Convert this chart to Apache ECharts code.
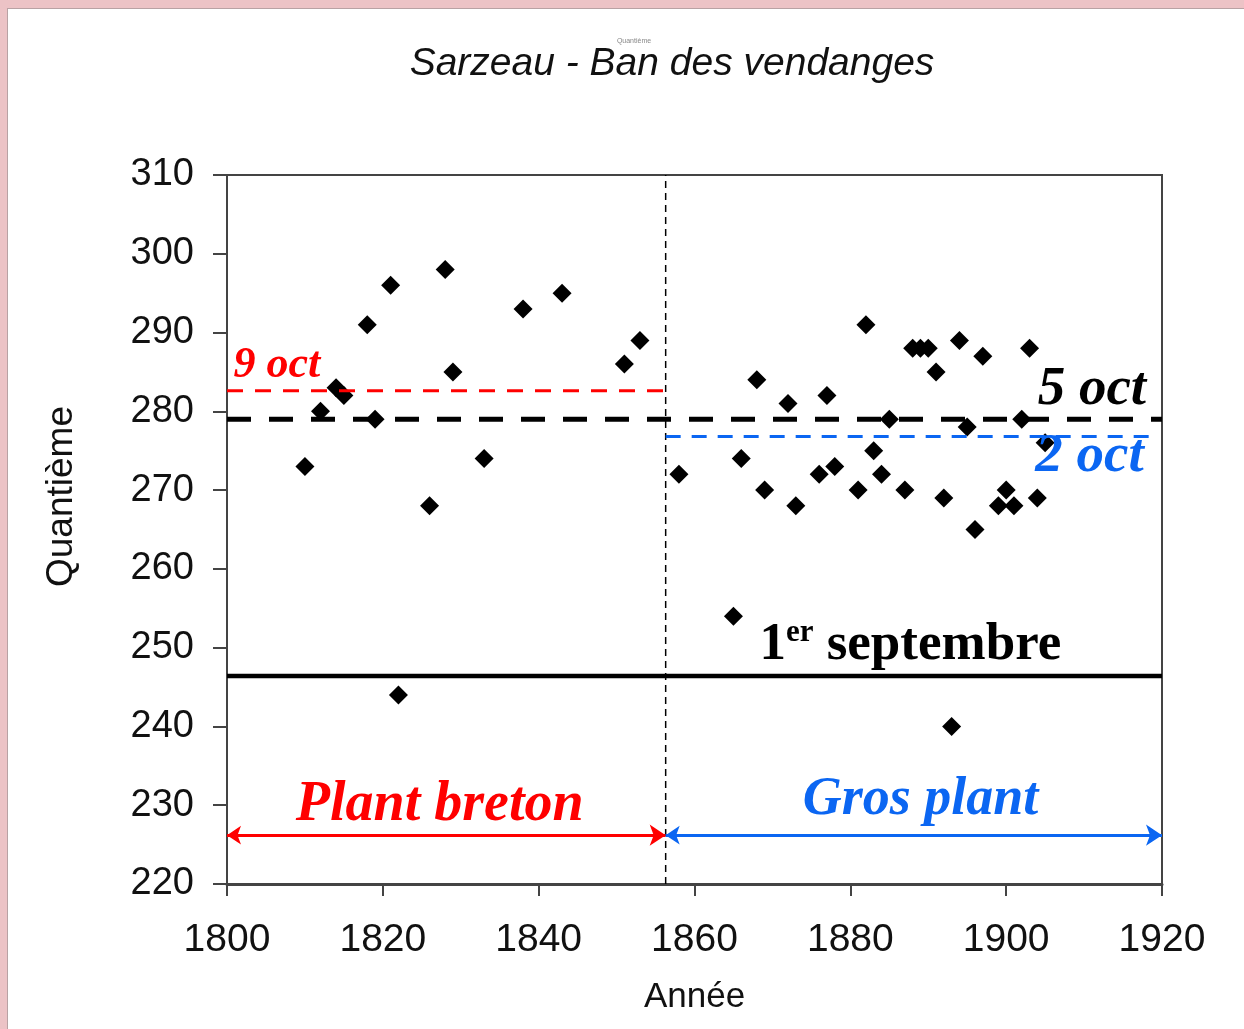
<!DOCTYPE html>
<html><head><meta charset="utf-8">
<script src="https://cdn.jsdelivr.net/npm/echarts@6/dist/echarts.min.js"></script>
<style>html,body{margin:0;padding:0;background:#fff}#c{width:1244px;height:1029px}</style>
</head><body><div id="c"></div>
<script>
// ---- data ----
const bretonYears = [1810,1812,1814,1815,1818,1819,1821,1822,1826,1828,1829,1833,1838,1843,1851,1853];
const bretonDays  = [273,280,283,282,291,279,296,244,268,298,285,274,293,295,286,289];
const grosYears = [1858,1865,1866,1868,1869,1872,1873,1876,1877,1878,1881,1882,1883,1884,1885,1887,1888,1889,1890,1891,1892,1893,1894,1895,1896,1897,1899,1900,1901,1902,1903,1904,1905];
const grosDays  = [272,254,274,284,270,281,268,272,282,273,270,291,275,272,279,270,288,288,288,285,269,240,289,278,265,287,268,270,268,279,288,269,276];
const xTickLabels = [1800,1820,1840,1860,1880,1900,1920];
const yTickLabels = [220,230,240,250,260,270,280,290,300,310];
const meanAll = 279;      // 5 oct
const meanBreton = 282.6; // 9 oct
const meanGros = 276.8;   // 2 oct
const septFirst = 246.4;  // 1er septembre
const changeYear = 1856.3;
const periodArrowDay = 226.2;
const grosLineEnd = 1918.9;

const xMin = xTickLabels[0], xMax = xTickLabels[xTickLabels.length-1];
const yMin = yTickLabels[0], yMax = yTickLabels[yTickLabels.length-1];
const points = bretonYears.map((y,i)=>[y,bretonDays[i]]).concat(grosYears.map((y,i)=>[y,grosDays[i]]));

const RED = '#ff0000', BLUE = '#0b66f2';
const chart = echarts.init(document.getElementById('c'), null, {renderer:'canvas'});
const axisFont = '"Liberation Sans", Arial, sans-serif';

const option = {
  animation: false,
  backgroundColor: '#fff',
  title: {
    text: 'Sarzeau - Ban des vendanges',
    left: 667, top: 40, textAlign: 'center',
    textStyle: {fontFamily: axisFont, fontStyle: 'italic', fontWeight: 'normal', fontSize: 39, color: '#111'}
  },
  grid: {left: 227, right: 82, top: 175, bottom: 145, show: true, borderColor: '#444', borderWidth: 2, backgroundColor: 'transparent'},
  xAxis: {
    type: 'value', min: xMin, max: xMax, interval: 20,
    name: 'Année', nameLocation: 'middle', nameGap: 96,
    nameTextStyle: {fontFamily: axisFont, fontSize: 35, color: '#111'},
    axisLine: {lineStyle: {color: '#444', width: 3}},
    axisTick: {inside: false, length: 12, lineStyle: {color: '#444', width: 2}},
    axisLabel: {margin: 37, fontFamily: axisFont, fontSize: 39, color: '#111', formatter: v => String(v)},
    splitLine: {show: false}
  },
  yAxis: {
    type: 'value', min: yMin, max: yMax, interval: 10,
    name: 'Quantième', nameLocation: 'middle', nameGap: 147,
    nameTextStyle: {fontFamily: axisFont, fontSize: 37, color: '#111', padding: [0,0,0,66]},
    axisLine: {show: true, lineStyle: {color: '#444', width: 2}},
    axisTick: {show: true, inside: false, length: 14, lineStyle: {color: '#444', width: 2}},
    axisLabel: {margin: 33, fontFamily: axisFont, fontSize: 38, color: '#111', padding: [6,0,0,0]},
    splitLine: {show: false}
  },
  series: [
    {type:'line', name:'1er septembre', data:[[xMin,septFirst],[xMax,septFirst]], symbol:'none', lineStyle:{color:'#000', width:4.5}, z:3},
    {type:'line', name:'séparation', data:[[changeYear,yMin],[changeYear,yMax]], symbol:'none', lineStyle:{color:'#000', width:1.5, type:[7,5]}, z:3},
    {type:'scatter', name:'Ban des vendanges', data: points, symbol:'diamond', symbolSize:19, itemStyle:{color:'#000', opacity:1}, z:4},
    {type:'line', name:'moyenne', data:[[xMin,meanAll],[xMax,meanAll]], symbol:'none', lineStyle:{color:'#000', width:5, type:[24,18]}, z:5},
    {type:'line', name:'moyenne Plant breton', data:[[xMin,meanBreton],[changeYear,meanBreton]], symbol:'none', lineStyle:{color:RED, width:3, type:[16,12]}, z:5},
    {type:'line', name:'moyenne Gros plant', data:[[changeYear,meanGros],[grosLineEnd,meanGros]], symbol:'none', lineStyle:{color:BLUE, width:3, type:[15,11]}, z:5},
    {type:'lines', coordinateSystem:'cartesian2d', symbol:['arrow','arrow'], symbolSize:[14,16],
      data:[{coords:[[xMin,periodArrowDay],[changeYear,periodArrowDay]]}], lineStyle:{color:RED, width:3, opacity:1}, z:5},
    {type:'lines', coordinateSystem:'cartesian2d', symbol:['arrow','arrow'], symbolSize:[14,16],
      data:[{coords:[[changeYear,periodArrowDay],[xMax,periodArrowDay]]}], lineStyle:{color:BLUE, width:3, opacity:1}, z:5}
  ]
};
chart.setOption(option);

function at(x, y){ return chart.convertToPixel({gridIndex:0}, [x,y]); }
const serif = '"Liberation Serif", "Times New Roman", serif';
function label(text, x, y, color, size){
  const p = at(x,y);
  return {type:'text', x:p[0], y:p[1], z:50,
    style:{text:text, fill:color, font:'italic bold '+size+'px '+serif, textAlign:'center', textVerticalAlign:'middle'}};
}
const sep = at(1887.7, 250.3);
chart.setOption({graphic:[
  {type:'rect', shape:{x:0,y:0,width:1244,height:8}, style:{fill:'#ecc3c6'}, z:60},
  {type:'rect', shape:{x:0,y:8,width:1244,height:1}, style:{fill:'#b8a2a4'}, z:60},
  {type:'rect', shape:{x:0,y:0,width:7,height:1029}, style:{fill:'#ecc3c6'}, z:60},
  {type:'rect', shape:{x:7,y:8,width:1,height:1021}, style:{fill:'#b8a2a4'}, z:60},
  {type:'text', x:634, y:41, z:50, style:{text:'Quantième', fill:'#888', font:'7px '+axisFont, textAlign:'center', textVerticalAlign:'middle'}},
  label('9 oct', 1806.4, 285.8, RED, 44),
  label('5 oct', 1911.0, 282.7, '#000', 55),
  label('2 oct', 1910.7, 274.2, BLUE, 55),
  label('Plant breton', 1827.3, 229.9, RED, 56),
  label('Gros plant', 1889.0, 230.7, BLUE, 54),
  {type:'text', x:sep[0], y:sep[1], z:50, style:{
    text:'{a|1}{b|er}{a| septembre}', textAlign:'center', textVerticalAlign:'middle',
    rich:{a:{fontFamily:serif, fontWeight:'bold', fontSize:53, lineHeight:56, fill:'#000', color:'#000'},
          b:{fontFamily:serif, fontWeight:'bold', fontSize:31, lineHeight:56, verticalAlign:'top', fill:'#000', color:'#000'}}
  }}
]});
</script></body></html>
